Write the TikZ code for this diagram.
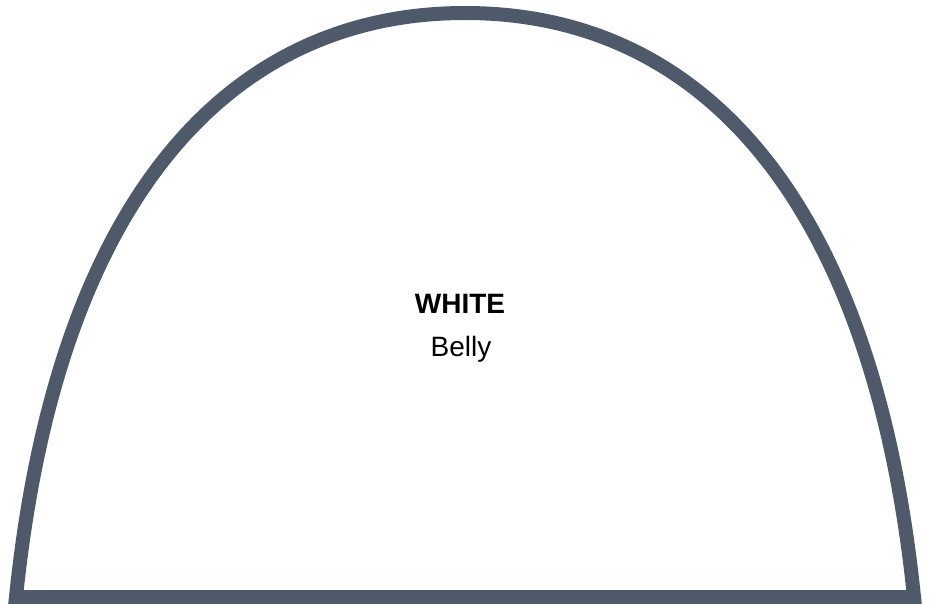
\documentclass[tikz,border=0pt]{standalone}
\usepackage{fontspec}
\setmainfont{Liberation Sans}
\definecolor{archcol}{HTML}{4E5A6A}
\tikzset{
  arch/.style={draw=archcol, line width=14pt, line join=miter, fill=white},
  title/.style={font=\bfseries\fontsize{28}{32}\selectfont, anchor=base, inner sep=0pt},
  sub/.style={font=\fontsize{28}{32}\selectfont, anchor=base, inner sep=0pt}
}
\begin{document}
\begin{tikzpicture}[x=1pt,y=-1pt]
  \useasboundingbox[fill=white] (0,0) rectangle (934,604);
  \coordinate (bl) at (16,597);
  \coordinate (top) at (465,13);
  \coordinate (br) at (914,597);
  \path[arch] (bl) .. controls (57,197) and (230,13) .. (top)
              .. controls (700,13) and (873,197) .. (br) -- cycle;
  \node[title] (white) at (460,313) {WHITE};
  \node[sub] (belly) at (461,356) {Belly};
\end{tikzpicture}
\end{document}
